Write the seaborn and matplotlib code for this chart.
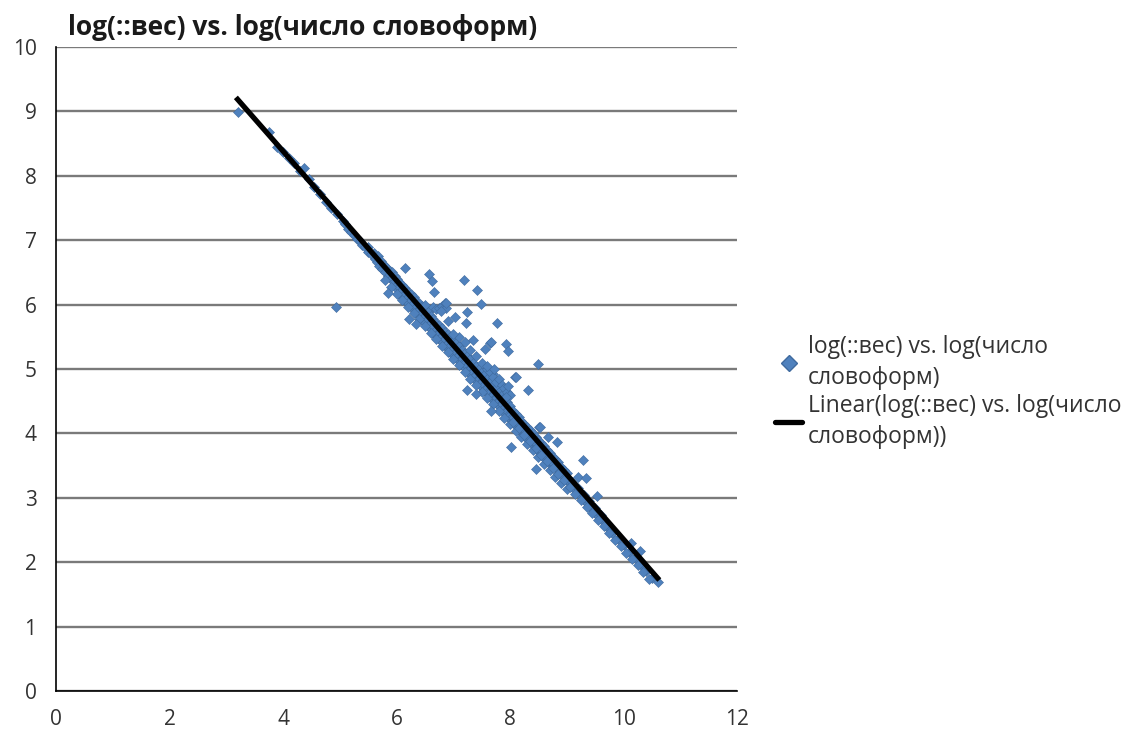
import matplotlib
matplotlib.use("Agg")
import matplotlib.pyplot as plt
import pandas as pd
import seaborn as sns
from matplotlib.lines import Line2D

TITLE = "log(::вес) vs. log(число словоформ)"
SERIES_LABEL = "log(::вес) vs. log(число\nсловоформ)"
TREND_LABEL = "Linear(log(::вес) vs. log(число\nсловоформ))"

# sparse upper-left part of the cloud
head_x = [3.2, 3.75, 3.9, 4.0, 4.1, 4.2, 4.3, 4.37, 4.45, 4.55, 4.65, 4.75, 4.85,
          4.95, 5.05, 5.1, 5.15, 5.2, 5.25, 5.3, 5.35, 5.4, 5.45, 5.5, 5.5]
head_y = [8.99, 8.68, 8.45, 8.37, 8.28, 8.2, 8.08, 8.12, 7.95, 7.82, 7.72, 7.6, 7.5,
          7.4, 7.3, 7.25, 7.18, 7.12, 7.08, 7.02, 6.98, 6.92, 6.9, 6.82, 6.9]

# dense band
band_x = [5.55, 5.6, 5.62, 5.65, 5.68, 5.7, 5.72, 5.75, 5.78, 5.8, 5.82, 5.85, 5.88, 5.9,
          5.92, 5.95, 5.98, 6.0, 6.0, 6.02,
          6.05, 6.05, 6.05, 6.1, 6.1, 6.1, 6.15, 6.15, 6.15, 6.2, 6.2, 6.2,
          6.25, 6.25, 6.25, 6.3, 6.3, 6.3, 6.35, 6.35, 6.35, 6.4, 6.4, 6.4,
          6.45, 6.45, 6.45, 6.5, 6.5, 6.5, 6.5, 6.55, 6.55, 6.55, 6.6, 6.6, 6.6,
          6.65, 6.65, 6.65, 6.7, 6.7, 6.7, 6.75, 6.75, 6.75, 6.8, 6.8, 6.8,
          6.85, 6.85, 6.85, 6.9, 6.9, 6.9, 6.95, 6.95, 6.95, 7.0, 7.0, 7.0,
          6.65, 6.7, 6.75, 6.8, 6.85, 6.88, 6.78,
          7.05, 7.05, 7.05, 7.1, 7.1, 7.1, 7.1, 7.15, 7.15, 7.15, 7.2, 7.2, 7.2, 7.2,
          7.25, 7.25, 7.25, 7.3, 7.3, 7.3, 7.3, 7.35, 7.35, 7.35, 7.4, 7.4, 7.4, 7.4,
          7.45, 7.45, 7.45, 7.5, 7.5, 7.5, 7.5, 7.55, 7.55, 7.55, 7.6, 7.6, 7.6, 7.6,
          7.65, 7.65, 7.65, 7.7, 7.7, 7.7, 7.7, 7.75, 7.75, 7.75, 7.8, 7.8, 7.8,
          7.85, 7.85, 7.85, 7.9, 7.9, 7.9, 7.95, 7.95, 7.95, 8.0, 8.0, 8.0,
          7.65, 7.7, 7.75, 7.8, 7.85, 7.9, 7.95, 8.0, 7.72, 7.6,
          8.05, 8.05, 8.1, 8.1, 8.1, 8.15, 8.15, 8.2, 8.2, 8.2, 8.25, 8.25,
          8.3, 8.3, 8.3, 8.35, 8.35, 8.4, 8.4, 8.4, 8.45, 8.45, 8.5, 8.5, 8.5,
          8.55, 8.55, 8.6, 8.6, 8.6, 8.65, 8.65, 8.7, 8.7, 8.7, 8.75, 8.75,
          8.8, 8.8, 8.85, 8.85, 8.9, 8.9, 8.95, 8.95, 9.0, 9.0,
          9.05, 9.1, 9.1, 9.15, 9.2, 9.2, 9.25, 9.3, 9.3, 9.35, 9.4, 9.4, 9.45,
          9.5, 9.5, 9.55, 9.6, 9.6, 9.65, 9.7, 9.75, 9.8, 9.9, 10.0, 10.1, 10.13,
          10.2, 10.29, 10.3, 10.4, 10.5, 10.6]
band_y = [6.78, 6.8, 6.7, 6.66, 6.75, 6.6, 6.68, 6.56, 6.62, 6.5, 6.58, 6.45, 6.52, 6.4,
          6.5, 6.35, 6.44, 6.3, 6.4, 6.22,
          6.27, 6.35, 6.18, 6.22, 6.3, 6.12, 6.17, 6.25, 6.05, 6.12, 6.2, 6.02,
          6.07, 6.16, 5.98, 6.02, 6.12, 5.92, 5.97, 6.06, 5.88, 5.92, 6.02, 5.82,
          5.87, 5.98, 5.78, 5.82, 5.92, 5.72, 6.0, 5.77, 5.88, 5.66, 5.71, 5.82, 5.62,
          5.66, 5.78, 5.56, 5.61, 5.72, 5.52, 5.56, 5.68, 5.46, 5.51, 5.64, 5.42,
          5.46, 5.58, 5.36, 5.41, 5.54, 5.32, 5.36, 5.5, 5.27, 5.31, 5.44, 5.22,
          5.97, 5.93, 5.95, 5.98, 6.02, 5.95, 5.9,
          5.26, 5.4, 5.17, 5.21, 5.35, 5.12, 5.5, 5.15, 5.3, 5.07, 5.1, 5.25, 5.02, 5.42,
          5.05, 5.2, 4.97, 5.0, 5.15, 4.92, 5.3, 4.95, 5.1, 4.87, 4.9, 5.05, 4.82, 5.2,
          4.85, 5.0, 4.77, 4.8, 4.95, 4.72, 5.1, 4.75, 4.9, 4.67, 4.7, 4.85, 4.62, 5.0,
          4.65, 4.8, 4.57, 4.6, 4.75, 4.52, 4.92, 4.55, 4.7, 4.47, 4.5, 4.65, 4.42,
          4.45, 4.6, 4.37, 4.39, 4.55, 4.32, 4.34, 4.48, 4.27, 4.29, 4.42, 4.22,
          4.95, 4.88, 4.8, 4.85, 4.75, 4.7, 4.65, 4.6, 5.0, 5.05,
          4.24, 4.35, 4.19, 4.3, 4.12, 4.14, 4.25, 4.09, 4.2, 4.02, 4.04, 4.14,
          3.99, 4.1, 3.92, 3.94, 4.05, 3.89, 4.0, 3.82, 3.84, 3.95, 3.78, 3.9, 3.72,
          3.73, 3.85, 3.68, 3.8, 3.62, 3.63, 3.74, 3.58, 3.7, 3.52, 3.53, 3.64,
          3.48, 3.6, 3.43, 3.55, 3.38, 3.48, 3.33, 3.43, 3.28, 3.38,
          3.23, 3.18, 3.25, 3.12, 3.07, 3.15, 3.02, 2.97, 3.05, 2.92, 2.87, 2.95, 2.82,
          2.77, 2.84, 2.72, 2.67, 2.74, 2.62, 2.57, 2.51, 2.46, 2.36, 2.26, 2.16, 2.3,
          2.06, 2.17, 1.96, 1.86, 1.76, 1.7]

# lower side of the band
lower_x = [5.8, 5.9, 6.0, 6.1, 6.2, 6.3, 6.4, 6.5, 6.6, 6.7, 6.8, 6.9, 7.0, 7.1,
           7.2, 7.3, 7.4, 7.5,
           7.6, 7.7, 7.8, 7.9, 8.0, 8.1, 8.2, 8.3, 8.4, 8.5, 8.6, 8.7, 8.8, 8.9, 9.0,
           8.05, 8.15, 8.25, 8.35, 8.45, 8.55, 8.65, 8.75, 8.85, 8.95, 9.05, 9.15,
           9.25, 9.35, 9.45, 9.55, 9.65, 9.75, 9.85, 9.95, 10.05, 10.15, 10.25,
           10.35, 10.45]
lower_y = [6.38, 6.28, 6.17, 6.07, 5.97, 5.87, 5.77, 5.67, 5.56, 5.46, 5.36, 5.26,
           5.16, 5.06, 4.95, 4.85, 4.75, 4.65,
           4.55, 4.45, 4.35, 4.24, 4.14, 4.04, 3.94, 3.84, 3.74, 3.63, 3.53, 3.43,
           3.33, 3.23, 3.13,
           4.18, 4.08, 3.98, 3.88, 3.77, 3.67, 3.57, 3.47, 3.37, 3.27, 3.17, 3.06,
           2.96, 2.86, 2.76, 2.66, 2.56, 2.45, 2.35, 2.25, 2.15, 2.05, 1.95,
           1.84, 1.74]

# scattered points off the band
outlier_x = [4.93, 5.85, 6.15, 6.22, 6.35, 6.57, 6.62, 6.66, 6.87, 6.9, 7.0, 7.03,
             7.19, 7.22, 7.24, 7.24, 7.35, 7.4, 7.42, 7.49, 7.56, 7.65, 7.66, 7.66,
             7.77, 7.93, 7.93, 7.96, 7.96, 8.02, 8.09, 8.1, 8.32, 8.46, 8.49, 8.51,
             8.53, 8.67, 8.83, 9.2, 9.29, 9.34, 9.53]
outlier_y = [5.96, 6.18, 6.57, 5.78, 5.7, 6.47, 6.37, 6.2, 6.03, 5.75, 5.55, 5.81,
             6.38, 5.72, 5.89, 4.67, 5.45, 4.61, 6.23, 6.01, 5.31, 5.41, 5.42, 4.35,
             5.71, 5.39, 4.56, 5.28, 4.74, 3.79, 4.88, 4.88, 4.67, 3.45, 5.08, 4.1,
             4.1, 3.94, 3.87, 3.32, 3.59, 3.31, 3.03]

df = pd.DataFrame({
    "x": head_x + band_x + lower_x + outlier_x,
    "y": head_y + band_y + lower_y + outlier_y,
})

sns.set_style("white")
plt.rcParams["font.family"] = ["Open Sans", "DejaVu Sans"]

fig = plt.figure(figsize=(11.36, 7.34), dpi=100)
ax = fig.add_axes([0.0493, 0.0586, 0.5995, 0.8774])

point_color = "#4F81BD"
sns.scatterplot(data=df, x="x", y="y", ax=ax, marker="D", s=26, color=point_color,
                edgecolor="#3F6A9E", linewidth=0.4, zorder=3, legend=False)
sns.regplot(data=df, x="x", y="y", ax=ax, scatter=False, ci=None, truncate=True,
            line_kws={"color": "black", "linewidth": 3.8, "zorder": 4,
                      "solid_capstyle": "projecting"})

ax.set_xlim(0, 12)
ax.set_ylim(0, 10)
ax.set_xticks(range(0, 13, 2))
ax.set_yticks(range(0, 11))
ax.set_xlabel("")
ax.set_ylabel("")
ax.yaxis.grid(True, color="#7a7a7a", linewidth=1.7, zorder=0)
ax.xaxis.grid(False)
ax.set_axisbelow(True)

for side in ("top", "right"):
    ax.spines[side].set_visible(False)
for side in ("left", "bottom"):
    ax.spines[side].set_color("black")
    ax.spines[side].set_linewidth(1.2)
ax.tick_params(axis="both", direction="out", length=6, width=1.1, color="black",
               labelsize=15, labelcolor="#333333")
ax.tick_params(axis="x", pad=7)
ax.tick_params(axis="y", pad=8)

fig.text(0.06, 0.963, TITLE, fontsize=19, fontweight="bold", color="#1a1a1a",
         ha="left", va="center")

handles = [
    Line2D([], [], linestyle="none", marker="D", markersize=8, color=point_color,
           markeredgecolor="#3F6A9E"),
    Line2D([], [], color="black", linewidth=3.8),
]
leg = fig.legend(handles, [SERIES_LABEL, TREND_LABEL], loc="center left",
                 bbox_to_anchor=(0.682, 0.466), frameon=False, fontsize=16.5,
                 handlelength=1.2, handletextpad=0.25, labelspacing=0.2,
                 borderpad=0, borderaxespad=0, labelcolor="#333333")
for t in leg.get_texts():
    t.set_linespacing(1.35)

fig.savefig("out.png", dpi=100)
